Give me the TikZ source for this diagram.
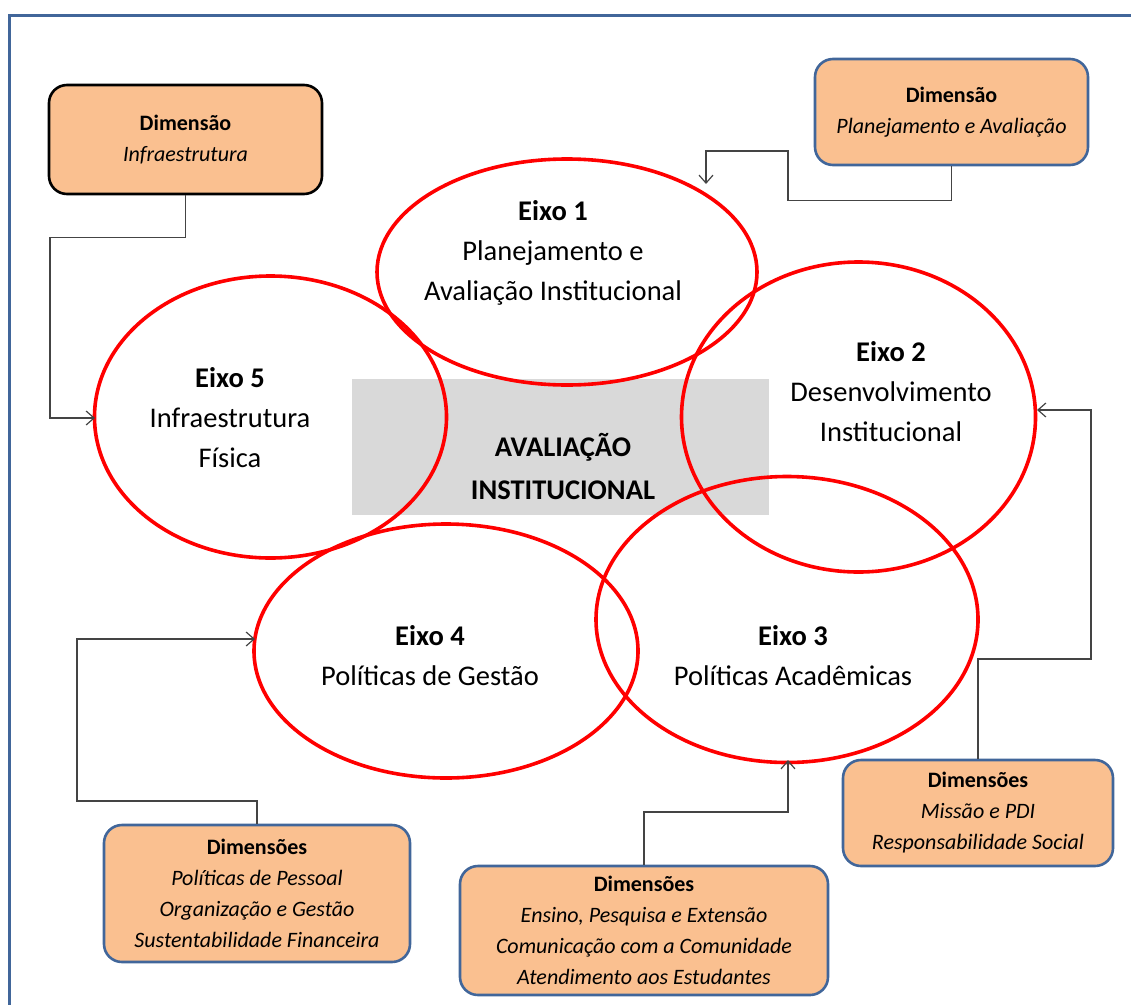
\documentclass[tikz,border=0pt]{standalone}
\usepackage{fontspec}
\setmainfont{Carlito}
\usetikzlibrary{shapes.geometric,arrows.meta}
\definecolor{peach}{HTML}{FAC090}
\definecolor{frameblue}{HTML}{41669A}
\definecolor{boxblue}{HTML}{41669A}
\definecolor{axred}{HTML}{FF0000}
\definecolor{lgray}{HTML}{D9D9D9}
\definecolor{conn}{HTML}{444444}
\tikzset{
  eixo/.style={draw=axred, line width=3.6pt, ellipse, inner sep=0pt},
  eixotext/.style={align=center, font=\fontsize{28.5}{40}\selectfont, inner sep=0pt},
  dimbox/.style={draw=boxblue, line width=2.6pt, fill=peach, rounded corners=18pt, align=center,
    font=\fontsize{22}{31}\selectfont, inner sep=0pt},
  link/.style={draw=conn, line width=1.3pt, -{Straight Barb[length=8pt,width=14pt,line width=1.2pt]}},
}
\begin{document}
\begin{tikzpicture}[x=1pt,y=-1pt]
\useasboundingbox (0,0) rectangle (1131,1004);
\draw[frameblue, line width=3pt] (9.5,15.5) rectangle (1160,1030);
% central gray rectangle
\node[fill=lgray, minimum width=417pt, minimum height=136pt, inner sep=0pt] (centre) at (560.5,447) {};
% ellipses
\node[eixo, minimum width=380pt, minimum height=226pt] (e1) at (567,272) {};
\node[eixo, minimum width=354pt, minimum height=310pt] (e2) at (858.5,417) {};
\node[eixo, minimum width=352pt, minimum height=282pt] (e5) at (270.5,417) {};
\node[eixo, minimum width=384pt, minimum height=254pt] (e4) at (446,651) {};
\node[eixo, minimum width=382pt, minimum height=286pt] (e3) at (787,619.5) {};
% texts
\node[eixotext] (t1) at (553,253) {\textbf{Eixo 1}\\Planejamento e\\Avaliação Institucional};
\node[eixotext] (t2) at (891,392) {\textbf{Eixo 2}\\Desenvolvimento\\Institucional};
\node[eixotext] (t5) at (230,418) {\textbf{Eixo 5}\\Infraestrutura\\Física};
\node[eixotext] (t4) at (430,656) {\textbf{Eixo 4}\\Políticas de Gestão};
\node[eixotext] (t3) at (793,656) {\textbf{Eixo 3}\\Políticas Acadêmicas};
\node[align=center, font=\fontsize{28.5}{43}\selectfont\bfseries, inner sep=0pt] (tc) at (563,466) {AVALIAÇÃO\\INSTITUCIONAL};
% dimension boxes
\node[dimbox, draw=black, minimum width=273pt, minimum height=109pt] (d5) at (185.5,139.5)
  {\textbf{Dimensão}\\\textit{Infraestrutura}};
\node[dimbox, minimum width=273pt, minimum height=106pt] (d1) at (951.5,112)
  {\textbf{Dimensão}\\\textit{Planejamento e Avaliação}};
\node[dimbox, minimum width=270pt, minimum height=106pt] (d2) at (978,813)
  {\textbf{Dimensões}\\\textit{Missão e PDI}\\\textit{Responsabilidade Social}};
\node[dimbox, minimum width=306pt, minimum height=137pt] (d4) at (257,893.5)
  {\textbf{Dimensões}\\\textit{Políticas de Pessoal}\\\textit{Organização e Gestão}\\\textit{Sustentabilidade Financeira}};
\node[dimbox, minimum width=368pt, minimum height=129pt] (d3) at (644,930.5)
  {\textbf{Dimensões}\\\textit{Ensino, Pesquisa e Extensão}\\\textit{Comunicação com a Comunidade}\\\textit{Atendimento aos Estudantes}};
% connector end points
\coordinate (a5) at (95,418);
\coordinate (a1) at (706,184);
\coordinate (a2) at (1037,410);
\coordinate (a3) at (788,760);
\coordinate (a4) at (255,639);
% connectors
\draw[link] (d5.south) -- ++(0,42) -| (50,418) -- (a5);
\draw[link] (d1.south) -- ++(0,34) -| (788,151) -| (a1);
\draw[link] (d2.north) -- (978,659) -| (1091,410) -- (a2);
\draw[link] (d3.north) -- (644,812) -| (a3);
\draw[link] (d4.north) -- (257,801) -| (77,639) -- (a4);
\end{tikzpicture}
\end{document}
